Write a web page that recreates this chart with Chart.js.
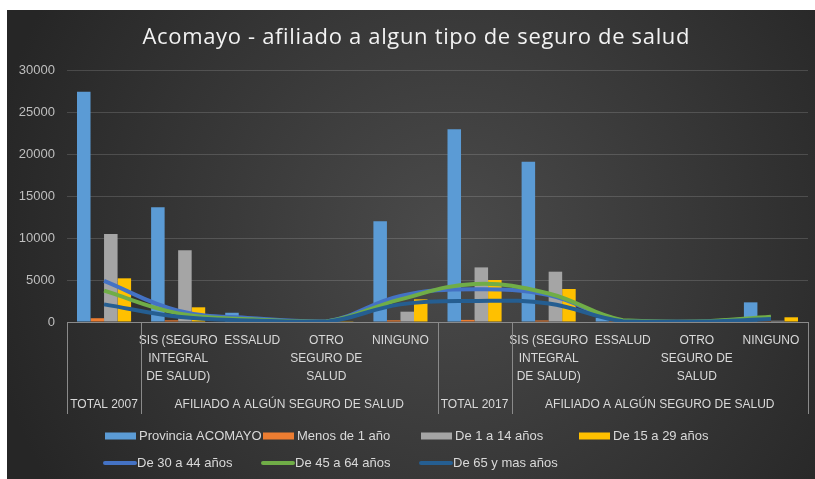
<!DOCTYPE html>
<html>
<head>
<meta charset="utf-8">
<script src="https://cdn.jsdelivr.net/npm/chart.js@4.4.1/dist/chart.umd.min.js"></script>
<style>
  html, body { margin: 0; padding: 0; background: #fff; }
  #wrap { width: 815px; height: 479px; }
</style>
</head>
<body>
<div id="wrap"><canvas id="seguroChart" width="815" height="479"></canvas></div>
<script>
// categorias (nivel 1 y nivel 2 del eje)
var categorias = [
  '',
  ['SIS (SEGURO', 'INTEGRAL', 'DE SALUD)'],
  'ESSALUD',
  ['OTRO', 'SEGURO DE', 'SALUD'],
  'NINGUNO',
  '',
  ['SIS (SEGURO', 'INTEGRAL', 'DE SALUD)'],
  'ESSALUD',
  ['OTRO', 'SEGURO DE', 'SALUD'],
  'NINGUNO'
];
var grupos = ['TOTAL 2007', 'AFILIADO A ALGÚN SEGURO DE SALUD', 'TOTAL 2017', 'AFILIADO A ALGÚN SEGURO DE SALUD'];
var gruposTam = [1, 4, 1, 4];

// series
var provincia = [27400, 13650, 1100, 100, 12000, 22940, 19090, 500, 100, 2340];
var menos1    = [450, 200, 15, 5, 200, 250, 180, 5, 5, 20];
var de1a14    = [10480, 8530, 150, 20, 1230, 6500, 5990, 30, 10, 150];
var de15a29   = [5200, 1750, 250, 30, 2700, 5000, 3930, 60, 20, 560];
var de30a44   = [4900, 1350, 450, 60, 3100, 3890, 3200, 150, 40, 500];
var de45a64   = [3730, 1030, 320, 50, 2700, 4520, 3400, 200, 50, 630];
var de65      = [2100, 630, 180, 30, 2100, 2500, 2200, 100, 30, 350];

var yTicks = [0, 5000, 10000, 15000, 20000, 25000, 30000];

var titulo = 'Acomayo - afiliado a algun tipo de seguro de salud';
var fuente = "'Liberation Sans', Arial, sans-serif";

var fondo = {
  id: 'fondo',
  beforeDraw: function (chart) {
    var ctx = chart.ctx;
    ctx.save();
    ctx.fillStyle = '#ffffff';
    ctx.fillRect(0, 0, chart.width, chart.height);
    var g = ctx.createRadialGradient(450, 240, 0, 450, 240, 470);
    g.addColorStop(0, '#4b4b4b');
    g.addColorStop(1, '#262626');
    ctx.fillStyle = g;
    ctx.fillRect(7, 10, chart.width - 7, chart.height - 10);
    ctx.restore();
  }
};

var ejeYLeyenda = {
  id: 'ejeYLeyenda',
  afterDraw: function (chart) {
    var ctx = chart.ctx;
    var x = chart.scales.x;
    var area = chart.chartArea;
    var paso = x.getPixelForValue(1) - x.getPixelForValue(0);
    ctx.save();

    // titulo con espaciado de letras
    ctx.font = "22px 'Open Sans', sans-serif";
    ctx.fillStyle = '#f2f2f2';
    ctx.textAlign = 'left';
    ctx.textBaseline = 'middle';
    var ancho = ctx.measureText(titulo).width;
    var esp = Math.max(0, (547 - ancho) / (titulo.length - 1));
    ctx.letterSpacing = esp.toFixed(2) + 'px';
    ctx.fillText(titulo, 416 - 547 / 2, 38);
    ctx.letterSpacing = '0px';

    // lineas verticales y etiquetas de nivel 2
    ctx.strokeStyle = '#8a8a8a';
    ctx.lineWidth = 1;
    ctx.fillStyle = '#d9d9d9';
    ctx.font = '12px ' + fuente;
    ctx.textAlign = 'center';
    var idx = 0;
    var bordes = [x.getPixelForValue(0) - paso / 2];
    for (var i = 0; i < grupos.length; i++) {
      var ini = x.getPixelForValue(idx) - paso / 2;
      var fin = x.getPixelForValue(idx + gruposTam[i] - 1) + paso / 2;
      ctx.fillText(grupos[i], (ini + fin) / 2, area.bottom + 83);
      bordes.push(fin);
      idx += gruposTam[i];
    }
    bordes.forEach(function (b) {
      ctx.beginPath();
      ctx.moveTo(Math.round(b) + 0.5, area.bottom);
      ctx.lineTo(Math.round(b) + 0.5, area.bottom + 92);
      ctx.stroke();
    });

    // leyenda
    var cols = [105, 263, 421, 579];
    var ds = chart.data.datasets;
    ctx.textAlign = 'left';
    ctx.font = '13px ' + fuente;
    for (var d = 0; d < ds.length; d++) {
      var fila = d < 4 ? 0 : 1;
      var col = d < 4 ? d : d - 4;
      var y = fila === 0 ? 436 : 463;
      var cx = cols[col] - (fila === 1 ? 2 : 0);
      if (ds[d].type === 'line') {
        ctx.strokeStyle = ds[d].borderColor;
        ctx.lineWidth = 4;
        ctx.lineCap = 'round';
        ctx.beginPath();
        ctx.moveTo(cx + 2, y);
        ctx.lineTo(cx + 32, y);
        ctx.stroke();
      } else {
        ctx.fillStyle = ds[d].backgroundColor;
        ctx.fillRect(cx, y - 3.5, 31, 7);
      }
      ctx.fillStyle = '#d9d9d9';
      ctx.fillText(ds[d].label, cx + 34, y);
    }
    ctx.restore();
  }
};

var chart = new Chart(document.getElementById('seguroChart').getContext('2d'), {
  data: {
    labels: categorias,
    datasets: [
      { type: 'bar', label: 'Provincia ACOMAYO', data: provincia, backgroundColor: '#5b9bd5', order: 4 },
      { type: 'bar', label: 'Menos de 1 año', data: menos1, backgroundColor: '#ed7d31', order: 5 },
      { type: 'bar', label: 'De 1 a 14 años', data: de1a14, backgroundColor: '#a5a5a5', order: 6 },
      { type: 'bar', label: 'De 15 a 29 años', data: de15a29, backgroundColor: '#ffc000', order: 7 },
      { type: 'line', label: 'De 30 a 44 años', data: de30a44, borderColor: '#4472c4', borderWidth: 4, pointRadius: 0, tension: 0.4, order: 3 },
      { type: 'line', label: 'De 45 a 64 años', data: de45a64, borderColor: '#70ad47', borderWidth: 4, pointRadius: 0, tension: 0.4, order: 2 },
      { type: 'line', label: 'De 65 y mas años', data: de65, borderColor: '#255e91', borderWidth: 4, pointRadius: 0, tension: 0.4, order: 1 }
    ]
  },
  options: {
    responsive: false,
    animation: false,
    layout: { padding: { left: 7, right: 7, top: 70, bottom: 62 } },
    datasets: { bar: { categoryPercentage: 0.73, barPercentage: 1.0 } },
    plugins: {
      legend: { display: false },
      tooltip: { enabled: false },
      title: { display: false }
    },
    scales: {
      x: {
        grid: { display: false, drawTicks: false },
        border: { display: true, color: '#8a8a8a', width: 1 },
        ticks: {
          color: '#d9d9d9',
          font: { family: fuente, size: 12, lineHeight: 1.5 },
          padding: 10,
          maxRotation: 0,
          autoSkip: false
        },
        afterFit: function (scale) { scale.height = 95; }
      },
      y: {
        min: 0,
        max: 30000,
        afterBuildTicks: function (scale) { scale.ticks = yTicks.map(function (v) { return { value: v }; }); },
        grid: { color: 'rgba(255,255,255,0.15)', drawTicks: false },
        border: { display: false },
        ticks: {
          color: '#bfbfbf',
          font: { family: fuente, size: 13 },
          padding: 12,
          callback: function (v) { return String(v); }
        },
        afterFit: function (scale) { scale.width = 60; }
      }
    }
  },
  plugins: [fondo, ejeYLeyenda]
});
</script>
</body>
</html>
